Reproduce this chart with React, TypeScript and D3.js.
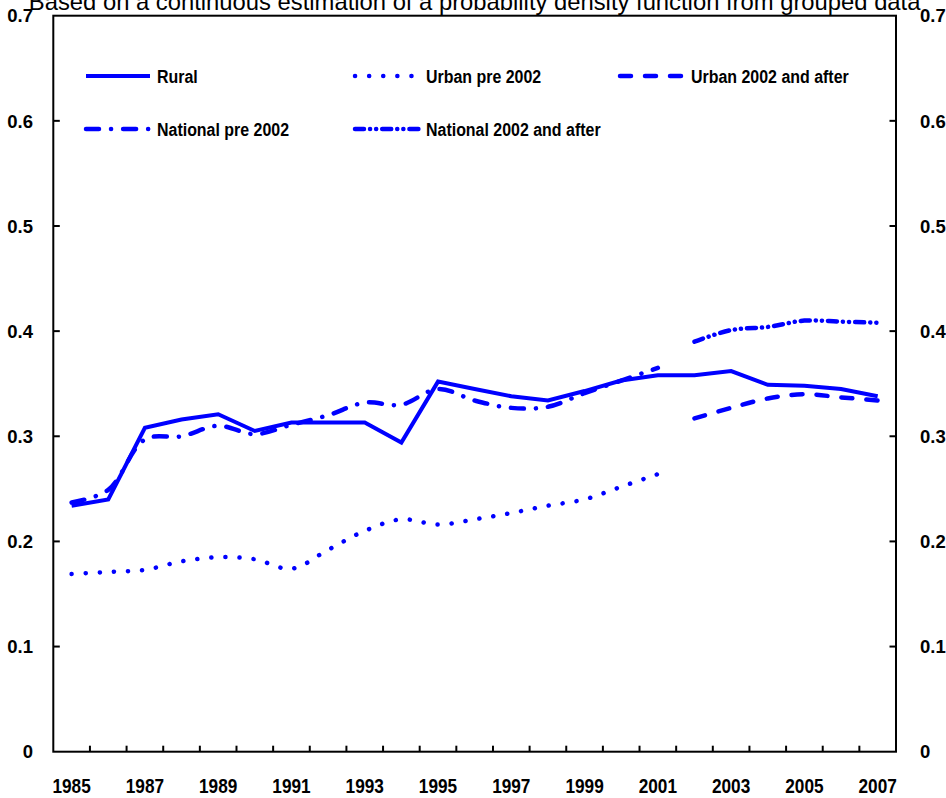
import React from "react";
import * as d3 from "d3";

const years = d3.range(1985, 2008).map(String);
const yTicks = [0, 0.1, 0.2, 0.3, 0.4, 0.5, 0.6, 0.7];
const yTickLabels = ["0", "0.1", "0.2", "0.3", "0.4", "0.5", "0.6", "0.7"];

const rural = [0.234, 0.240, 0.308, 0.316, 0.321, 0.305, 0.313, 0.313, 0.313, 0.294, 0.352, 0.345, 0.338, 0.334, 0.343, 0.353, 0.358, 0.358, 0.362, 0.349, 0.348, 0.345, 0.338];
const urbanPreYears = d3.range(1985, 2002).map(String);
const urbanPre = [0.169, 0.171, 0.173, 0.181, 0.185, 0.183, 0.174, 0.192, 0.210, 0.221, 0.216, 0.221, 0.227, 0.234, 0.240, 0.252, 0.264];
const postYears = d3.range(2002, 2008).map(String);
const urbanPost = [0.317, 0.327, 0.336, 0.340, 0.337, 0.334];
const nationalPre = [0.237, 0.249, 0.297, 0.300, 0.310, 0.302, 0.311, 0.320, 0.332, 0.330, 0.345, 0.334, 0.327, 0.328, 0.341, 0.353, 0.365];
const nationalPost = [0.390, 0.401, 0.404, 0.410, 0.409, 0.408];

const title = "Based on a continuous estimation of a probability density function from grouped data";

const BLUE = "#0000FF";
const W = 946, H = 798;
const left = 53.3, right = 896, top = 15.7, bottom = 751.7;

type SeriesDef = { name: string; cats: string[]; vals: number[]; dash: string; width: number; smooth: boolean };

const series: SeriesDef[] = [
  { name: "Rural", cats: years, vals: rural, dash: "none", width: 4, smooth: false },
  { name: "Urban pre 2002", cats: urbanPreYears, vals: urbanPre, dash: "0.1 14", width: 4.5, smooth: true },
  { name: "Urban 2002 and after", cats: postYears, vals: urbanPost, dash: "11 14", width: 4.5, smooth: true },
  { name: "National pre 2002", cats: urbanPreYears, vals: nationalPre, dash: "13 12 0.1 12", width: 4.5, smooth: true },
  { name: "National 2002 and after", cats: postYears, vals: nationalPost, dash: "9 6 0.1 6 0.1 6", width: 4.5, smooth: true },
];

const legendPos = [
  { x: 86, y: 76 },
  { x: 355, y: 76 },
  { x: 620, y: 76 },
  { x: 86, y: 129 },
  { x: 355, y: 129 },
];

export default function App() {
  const x = d3.scaleBand<string>().domain(years).range([left, right]).padding(0);
  const y = d3.scaleLinear().domain([0, 0.7]).range([bottom, top]);
  const bw = x.bandwidth();
  const cx = (c: string) => (x(c) as number) + bw / 2;

  const boundaries = years.slice(1).map((c) => x(c) as number);

  return (
    <svg width={W} height={H} style={{ position: "absolute", left: 0, top: 0, background: "#fff" }}
      fontFamily="'Liberation Sans', Arial, sans-serif">
      <text x={(left + right) / 2} y={10} textAnchor="middle" fontSize={23.8} fill="#000">{title}</text>

      {/* frame */}
      <rect x={left} y={top} width={right - left} height={bottom - top} fill="none" stroke="#000" strokeWidth={2} />

      {/* y ticks */}
      {yTicks.map((t, i) => (
        <g key={"yt" + i}>
          {i > 0 && i < yTicks.length - 1 && (
            <>
              <line x1={left} x2={left + 6.5} y1={y(t)} y2={y(t)} stroke="#000" strokeWidth={2} />
              <line x1={right} x2={right - 6.5} y1={y(t)} y2={y(t)} stroke="#000" strokeWidth={2} />
            </>
          )}
          <text x={33} y={y(t)} dy="0.36em" textAnchor="end" fontSize={18.5} fontWeight="bold">{yTickLabels[i]}</text>
          <text x={920} y={y(t)} dy="0.36em" textAnchor="start" fontSize={18.5} fontWeight="bold">{yTickLabels[i]}</text>
        </g>
      ))}

      {/* x ticks */}
      {boundaries.map((b, i) => (
        <line key={"xt" + i} x1={b} x2={b} y1={bottom} y2={bottom - 6} stroke="#000" strokeWidth={2} />
      ))}
      {years.filter((_, i) => i % 2 === 0).map((c) => (
        <text key={"xl" + c} transform={`translate(${cx(c)},${792.5}) scale(0.84,1)`} textAnchor="middle" fontSize={20.5} fontWeight="bold">{c}</text>
      ))}

      {/* series */}
      {series.map((s) => {
        const line = d3.line<number>()
          .x((_, i) => cx(s.cats[i]))
          .y((v) => y(v))
          .curve(s.smooth ? d3.curveCatmullRom.alpha(0.5) : d3.curveLinear);
        return (
          <path key={s.name} d={line(s.vals) || ""} fill="none" stroke={BLUE} strokeWidth={s.width}
            strokeDasharray={s.dash} strokeLinecap={s.dash === "none" ? "butt" : "round"} strokeLinejoin="miter" />
        );
      })}

      {/* legend */}
      {series.map((s, i) => {
        const p = legendPos[i];
        return (
          <g key={"lg" + s.name}>
            <line x1={p.x} x2={p.x + 64} y1={p.y} y2={p.y} stroke={BLUE} strokeWidth={s.width}
              strokeDasharray={s.dash} strokeLinecap={s.dash === "none" ? "butt" : "round"} />
            <text transform={`translate(${p.x + 71},${p.y + 6.8}) scale(0.84,1)`} fontSize={19} fontWeight="bold">{s.name}</text>
          </g>
        );
      })}
    </svg>
  );
}
